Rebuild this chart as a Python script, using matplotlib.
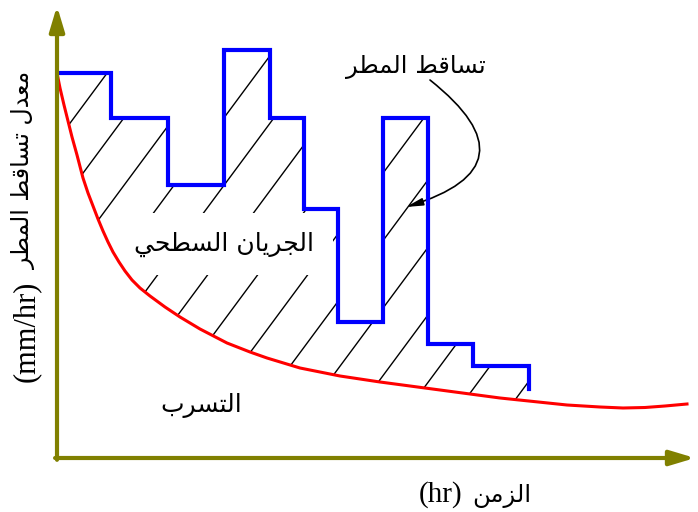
import numpy as np
import matplotlib
matplotlib.use('Agg')
import matplotlib.pyplot as plt
from matplotlib.patches import Polygon

# rainfall hyetograph: block edges (time) and rainfall intensity of each block
time_edges = [0, 5.4, 11.1, 16.7, 21.3, 24.7, 28.1, 32.6, 37.1, 41.6, 47.2]
rain_rate = [38.5, 34.0, 27.3, 40.8, 34.0, 24.9, 13.6, 34.0, 11.4, 9.2]
rain_end = 6.9

# infiltration capacity curve
infil_t = [0, 0.3, 0.7, 1.1, 1.5, 2.0, 2.6, 3.1, 3.6, 4.1, 4.6, 5.1, 5.6,
           6.2, 6.8, 7.5, 8.3, 9.3, 10.8, 12.3, 14.3, 17.0, 19.3, 21.0,
           24.3, 28.3, 32.3, 38.3, 44.3, 51.0, 54.3, 56.6, 58.8, 60.8, 63.0]
infil_f = [38.5, 37.0, 35.3, 33.7, 32.1, 30.3, 28.0, 26.5, 25.2, 23.9,
           22.7, 21.6, 20.6, 19.6, 18.7, 17.8, 17.0, 16.2, 15.1, 14.1, 12.9,
           11.5, 10.6, 10.0, 9.0, 8.2, 7.6, 6.8, 6.0, 5.3, 5.1, 5.0, 5.05,
           5.2, 5.4]

# labels (Arabic)
txt_rain = 'تساقط المطر'
txt_runoff = 'الجريان السطحي'
txt_infil = 'التسرب'
txt_time = 'الزمن'
txt_rate = 'معدل تساقط المطر'
unit_time = '(hr)'
unit_rate = '(mm/hr)'

# tiny Arabic shaper: contextual forms + visual (right-to-left) order
DUAL = {'ب': 0xFE8F, 'ت': 0xFE95, 'ج': 0xFE9D, 'ح': 0xFEA1, 'س': 0xFEB1,
        'ط': 0xFEC1, 'ع': 0xFEC9, 'ق': 0xFED5, 'ل': 0xFEDD, 'م': 0xFEE1,
        'ن': 0xFEE5, 'ي': 0xFEF1}
RIGHT = {'ا': 0xFE8D, 'د': 0xFEA9, 'ر': 0xFEAD, 'ز': 0xFEAF}


def ar(s):
    out = []
    for i, ch in enumerate(s):
        if ch not in DUAL and ch not in RIGHT:
            out.append(ch)
            continue
        prev = s[i - 1] if i > 0 else ''
        nxt = s[i + 1] if i + 1 < len(s) else ''
        jp = prev in DUAL
        jn = nxt in DUAL or nxt in RIGHT
        if ch in DUAL:
            b = DUAL[ch]
            out.append(chr(b + 3) if jp and jn else chr(b + 1) if jp
                       else chr(b + 2) if jn else chr(b))
        else:
            b = RIGHT[ch]
            out.append(chr(b + 1) if jp else chr(b))
    return ''.join(out)[::-1]


AR_FONT = ['DejaVu Sans']
LAT_FONT = ['Liberation Serif', 'DejaVu Serif']
OLIVE = '#808000'

fig = plt.figure(figsize=(6.98, 5.12), dpi=100)
ax = fig.add_axes([57 / 698, 54 / 512, 638 / 698, 452 / 512])
ax.set_xlim(0, 63.8)
ax.set_ylim(0, 45.2)
ax.axis('off')

# step outline of the rainfall
sx = []
sy = []
for i in range(len(rain_rate)):
    sx += [time_edges[i], time_edges[i + 1]]
    sy += [rain_rate[i], rain_rate[i]]
sx.append(time_edges[-1])
sy.append(rain_end)
ax.plot(sx, sy, color='#0000ff', lw=3, zorder=5, solid_joinstyle='miter')

# infiltration curve
ax.plot(infil_t, infil_f, color='#ff0000', lw=2.2, zorder=6)

# hatched surface runoff region (between rain blocks and infiltration)
it = np.array(infil_t)
iff = np.array(infil_f)
low_x = [t for t in infil_t if t <= time_edges[-1]] + [time_edges[-1]]
low_y = list(np.interp(low_x, it, iff))
poly = list(zip(sx, sy)) + list(zip(low_x[::-1], low_y[::-1]))
region = Polygon(poly, closed=True, facecolor='none', edgecolor='none')
ax.add_patch(region)
slope = 1.35
xx = np.array([-10, 80])
for c in np.arange(-43.5, 60, 5.0):
    ln, = ax.plot(xx, slope * (xx - c), color='black', lw=1, zorder=2)
    ln.set_clip_path(region)

# axes with arrows
arrow = '-|>,head_length=1.5,head_width=0.45'
ax.annotate('', xy=(0, 1.0), xytext=(0, -0.004), xycoords='axes fraction',
            arrowprops=dict(arrowstyle=arrow, color=OLIVE, lw=3,
                            shrinkA=0, shrinkB=0), zorder=7)
ax.annotate('', xy=(1.0, 0), xytext=(-0.003, 0), xycoords='axes fraction',
            arrowprops=dict(arrowstyle=arrow, color=OLIVE, lw=3,
                            shrinkA=0, shrinkB=0), zorder=7)

# texts inside the plot
ax.text(16.7, 21.4, ar(txt_runoff), family=AR_FONT, fontsize=18,
        ha='center', va='center', zorder=4,
        bbox=dict(boxstyle='square,pad=0.75', fc='white', ec='none'))
ax.text(14.4, 5.2, ar(txt_infil), family=AR_FONT, fontsize=18,
        ha='center', va='center')
ax.text(35.9, 39.1, ar(txt_rain), family=AR_FONT, fontsize=17.5,
        ha='center', va='center')
ax.annotate('', xy=(34.9, 25.1), xytext=(37.3, 37.8),
            arrowprops=dict(arrowstyle='-|>,head_length=1.0,head_width=0.22',
                            color='black', lw=1.2, shrinkA=0, shrinkB=0,
                            connectionstyle='arc3,rad=-0.95'))

# axis labels (Arabic part and unit part)
fig.text(441 / 698, 1 - 502 / 512, unit_time, family=LAT_FONT, fontsize=21,
         ha='center', va='baseline')
fig.text(502 / 698, 1 - 502 / 512, ar(txt_time), family=AR_FONT,
         fontsize=17.5, ha='center', va='baseline')
fig.text(26 / 698, 1 - 331 / 512, unit_rate, family=LAT_FONT, fontsize=22,
         ha='center', va='center', rotation=90)
fig.text(24 / 698, 1 - 170 / 512, ar(txt_rate), family=AR_FONT,
         fontsize=17, ha='center', va='center', rotation=90)

fig.savefig('out.png', dpi=100)
